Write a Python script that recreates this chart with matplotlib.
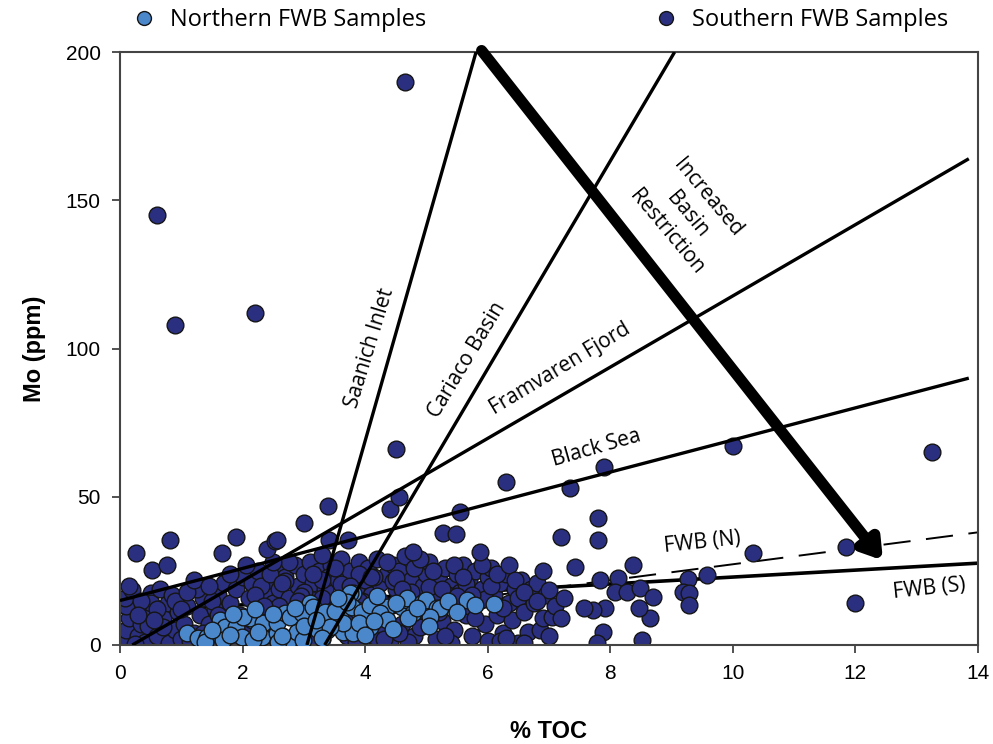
import matplotlib
matplotlib.use("Agg")
import matplotlib.pyplot as plt
from matplotlib.lines import Line2D

# ---------------- data ----------------
south_x = [
    # cluster x 0-1
    0.05, 0.10, 0.15, 0.10, 0.08, 0.20, 0.30, 0.35, 0.45, 0.50, 0.40, 0.25, 0.50, 0.45,
    0.60, 0.70, 0.78, 0.80, 0.90, 0.95, 0.65, 0.85, 1.00,
    # x 1-2
    1.05, 1.10, 1.15, 1.20, 1.30, 1.35, 1.40, 1.45, 1.25,
    1.55, 1.60, 1.70, 1.65, 1.75, 1.80, 1.85, 1.90, 1.95, 2.00, 1.58,
    # x 2-3
    2.05, 2.10, 2.15, 2.20, 2.25, 2.30, 2.35, 2.40, 2.45, 2.50, 2.12,
    2.55, 2.60, 2.65, 2.70, 2.75, 2.80, 2.85, 2.90, 2.95, 3.00, 2.80, 2.60,
    # x 3-4
    3.05, 3.10, 3.15, 3.20, 3.25, 3.30, 3.35, 3.40, 3.45, 3.50, 3.20, 3.40, 3.10,
    3.55, 3.60, 3.65, 3.70, 3.75, 3.80, 3.85, 3.90, 3.95, 4.00, 3.70, 3.85,
    # x 4-5
    4.05, 4.10, 4.15, 4.20, 4.25, 4.30, 4.35, 4.40, 4.45, 4.50, 4.20, 4.40,
    4.55, 4.60, 4.65, 4.70, 4.75, 4.80, 4.85, 4.90, 4.95, 5.00, 4.70, 4.90,
    # x 5-6
    5.05, 5.10, 5.15, 5.20, 5.25, 5.30, 5.35, 5.40, 5.45, 5.50, 5.20, 5.40,
    5.55, 5.60, 5.65, 5.70, 5.75, 5.80, 5.85, 5.90, 5.95, 6.00, 5.70, 6.00,
    # x 6-7.3
    6.05, 6.10, 6.15, 6.20, 6.25, 6.30, 6.35, 6.40, 6.45, 6.50, 6.50, 6.20,
    6.55, 6.60, 6.65, 6.70, 6.75, 6.80, 6.85, 6.90, 6.95, 7.00, 7.05, 7.10, 7.20, 7.25, 6.60,
    # extra fill in dense core
    2.30, 2.70, 3.00, 3.30, 3.60, 3.90, 4.15, 4.45, 4.75, 5.05, 5.35, 5.65, 5.95, 6.25,
    2.45, 2.95, 3.45, 3.95, 4.50, 5.00, 5.50, 6.05,
    0.15, 0.35, 0.60, 0.70, 0.90, 0.55, 0.30,
    1.10, 1.20, 1.50, 1.45, 1.00, 1.35, 1.80, 1.60,
    2.05, 2.20, 2.35, 2.65, 2.75, 2.90, 3.00, 2.50,
    3.15, 3.30, 3.50, 3.55, 3.75, 3.90, 3.65, 3.30,
    4.10, 4.25, 4.35, 4.60, 4.80, 4.95, 4.55, 4.30, 4.90,
    5.10, 5.25, 5.45, 5.60, 5.75, 5.90, 5.30, 5.80,
    6.15, 6.35, 6.45, 6.60, 6.80, 6.90, 6.30, 7.00,
    # sparse right part
    7.83, 8.12, 8.07, 8.27, 8.48, 8.70, 8.65, 8.47, 7.91, 7.88, 7.78, 8.52,
    9.27, 9.58, 9.19, 9.28, 9.28, 7.72, 7.57, 7.42, 8.37,
    # upper scatter
    0.26, 0.82, 0.52, 0.77, 1.66, 1.89, 2.40, 2.53, 2.56, 3.41, 3.72, 3.30,
    4.78, 5.27, 5.48, 5.87, 3.00, 3.40, 4.40, 4.55, 5.55, 7.20, 7.80, 7.80,
    10.33, 11.84, 12.00,
    # outliers
    0.60, 0.90, 2.20, 4.65, 4.50, 10.00, 13.25, 7.90, 6.30, 7.35,
]
south_y = [
    2.0, 5.0, 9.0, 13.0, 16.0, 18.5, 3.0, 7.0, 11.5, 17.5, 1.0, 0.5, 14.0, 6.5,
    3.0, 9.0, 14.0, 0.8, 5.0, 11.0, 19.0, 17.0, 2.0,
    7.0, 13.0, 1.5, 4.0, 10.0, 16.0, 2.5, 7.0, 19.0,
    12.0, 17.0, 21.0, 4.0, 8.0, 14.0, 1.0, 19.0, 10.0, 23.0, 0.8,
    5.0, 16.0, 21.0, 11.0, 25.0, 1.5, 18.0, 8.0, 22.0, 14.0, 0.5,
    26.0, 19.0, 3.0, 23.0, 16.0, 11.0, 27.0, 20.0, 7.0, 24.0, 1.0, 13.0,
    17.0, 28.0, 21.0, 11.0, 25.0, 2.0, 19.0, 14.0, 27.0, 8.0, 5.0, 23.0, 0.7,
    22.0, 29.0, 16.0, 3.0, 25.0, 12.0, 19.0, 28.0, 7.0, 22.0, 9.0, 1.0,
    26.0, 17.0, 3.0, 29.0, 21.0, 6.0, 24.0, 13.0, 27.0, 19.0, 10.0, 1.5,
    25.0, 7.0, 30.0, 16.0, 22.0, 3.0, 27.0, 11.0, 20.0, 24.0, 1.0, 6.0,
    28.0, 17.0, 2.0, 22.0, 8.0, 26.0, 14.0, 20.0, 5.0, 24.0, 11.0, 0.8,
    18.0, 27.0, 10.0, 22.0, 3.0, 25.0, 15.0, 19.0, 7.0, 23.0, 13.0, 1.5,
    26.0, 17.0, 10.0, 21.0, 4.0, 24.0, 14.0, 8.5, 19.0, 0.7, 16.0, 1.2,
    22.0, 11.0, 4.5, 19.0, 14.0, 21.0, 5.0, 9.0, 17.0, 18.5, 9.4, 13.0, 9.1, 16.0, 0.7,
    20.0, 21.5, 18.0, 22.0, 20.5, 24.0, 23.0, 21.5, 18.0, 19.5, 17.0, 20.5, 15.5, 12.5,
    24.0, 16.5, 12.5, 15.0, 22.5, 13.0, 16.5, 20.0,
    20.0, 15.0, 12.0, 6.0, 15.0, 8.5, 10.0,
    18.0, 22.0, 15.0, 20.0, 12.0, 4.0, 24.0, 10.0,
    27.0, 17.0, 13.0, 21.0, 28.0, 15.0, 10.0, 28.0,
    24.0, 16.0, 26.0, 13.0, 20.0, 15.0, 5.0, 8.0,
    23.0, 15.0, 28.0, 19.0, 26.0, 14.0, 4.0, 2.0, 29.0,
    25.0, 19.0, 27.0, 23.0, 17.0, 27.0, 3.0, 9.0,
    24.0, 27.0, 22.0, 18.0, 15.0, 25.0, 2.5, 3.0,
    22.0, 22.6, 17.9, 17.9, 19.2, 16.2, 9.1, 12.5, 12.5, 4.4, 0.7, 1.7,
    22.3, 23.6, 17.9, 17.5, 13.5, 11.8, 12.5, 26.3, 27.0,
    31.0, 35.4, 25.3, 27.0, 31.0, 36.4, 32.4, 35.0, 35.4, 35.4, 35.4, 30.5,
    31.5, 37.8, 37.5, 31.5, 41.0, 47.0, 46.0, 50.0, 45.0, 36.5, 43.0, 35.5,
    31.0, 33.0, 14.0,
    145.0, 108.0, 112.0, 190.0, 66.0, 67.0, 65.0, 60.0, 55.0, 53.0,
]

north_x = [
    1.09, 1.27, 1.42, 1.63, 1.71, 1.90, 2.15, 2.40, 1.68, 1.99, 2.32, 2.56,
    2.12, 2.33, 2.56, 2.69, 2.89, 3.10, 3.07, 3.38, 3.59, 3.80, 3.86, 4.08,
    4.29, 4.35, 4.60, 4.68, 1.39, 2.17, 2.74, 2.89, 3.23, 3.64,
    2.58, 2.99, 2.77, 2.97, 3.15, 3.34, 3.78, 3.80, 3.64, 3.95, 4.08, 4.24,
    4.35, 4.68, 4.93, 4.78, 5.00, 5.17, 4.08, 3.43, 3.75,
    5.66, 6.10, 5.22, 5.06,
    1.50, 1.80, 2.00, 2.25, 2.50, 2.65, 2.85, 3.00, 3.20, 3.30, 3.50, 3.70,
    3.90, 4.00, 4.15, 4.45, 4.50, 4.70, 4.85, 5.05, 5.35, 5.50, 5.80, 3.55,
    2.20, 1.85, 4.20,
]
north_y = [
    4.0, 2.4, 2.7, 8.4, 6.1, 6.1, 8.4, 6.1, 1.7, 2.7, 2.7, 4.0,
    9.1, 7.4, 7.4, 10.8, 9.1, 14.2, 9.4, 5.0, 9.4, 17.5, 11.8, 10.8,
    10.8, 12.8, 12.8, 15.2, 1.0, 1.7, 1.0, 4.4, 5.0, 4.4,
    1.0, 1.7, 9.4, 10.8, 12.8, 11.1, 12.8, 4.0, 7.4, 11.1, 13.5, 10.8,
    8.4, 15.9, 14.2, 10.8, 15.2, 12.5, 6.1, 6.1, 17.5,
    15.2, 13.8, 12.5, 9.4,
    5.0, 3.5, 9.5, 4.5, 10.5, 3.0, 12.5, 6.5, 8.5, 2.5, 11.5, 14.5,
    7.5, 3.5, 8.0, 5.5, 14.0, 9.0, 12.5, 6.5, 14.8, 11.0, 13.5, 16.0,
    12.0, 10.5, 16.5,
]

# reference trend lines: (x0, y0, x1, y1)
line_names = ["Saanich Inlet", "Cariaco Basin", "Framvaren Fjord", "Black Sea"]
line_x0 = [3.05, 3.34, 0.20, 0.0]
line_y0 = [0.0, 0.0, 0.0, 15.0]
line_x1 = [5.81, 9.05, 13.85, 13.85]
line_y1 = [200.0, 200.0, 164.0, 90.0]

fwb_s_x = [0.0, 14.0]
fwb_s_y = [11.2, 27.6]
fwb_n_x = [0.0, 14.0]
fwb_n_y = [0.3, 38.0]

arrow_start = (5.9, 200.5)
arrow_end = (12.45, 28.5)

x_ticks = [0, 2, 4, 6, 8, 10, 12, 14]
y_ticks = [0, 50, 100, 150, 200]

# ---------------- style ----------------
south_color = "#2b2f80"
north_color = "#4a88cb"
txt_font = ["Open Sans", "DejaVu Sans"]
num_font = ["Liberation Sans", "DejaVu Sans"]

fig = plt.figure(figsize=(9.93, 7.44), dpi=100)
ax = fig.add_axes([120/993, 1-645/744, (978-120)/993, (645-52)/744])
ax.set_xlim(0, 14)
ax.set_ylim(0, 200)

# FWB lines under markers
ax.plot(fwb_s_x, fwb_s_y, color="black", lw=2.6, zorder=1, solid_capstyle="butt")
ax.plot(fwb_n_x, fwb_n_y, color="black", lw=1.4, zorder=1, dashes=(14, 8))

ms = 145
ax.scatter(south_x, south_y, s=ms, c=south_color, edgecolors="#151515", linewidths=1.0, zorder=2)
ax.scatter(north_x, north_y, s=ms, c=north_color, edgecolors="#151515", linewidths=1.0, zorder=3)

for x0, y0, x1, y1 in zip(line_x0, line_y0, line_x1, line_y1):
    ax.plot([x0, x1], [y0, y1], color="black", lw=2.4, zorder=4, solid_capstyle="butt")

ax.annotate("", xy=arrow_end, xytext=arrow_start,
            arrowprops=dict(arrowstyle="-|>,head_length=1.1,head_width=0.7",
                            color="black", lw=8, shrinkA=0, shrinkB=0),
            zorder=5, annotation_clip=False)

fs = 15
ax.text(4.08, 100, "Saanich Inlet", rotation=73, ha="center", va="center",
        fontsize=fs, family=txt_font, rotation_mode="anchor", zorder=6)
ax.text(5.66, 96, "Cariaco Basin", rotation=59, ha="center", va="center",
        fontsize=fs, family=txt_font, rotation_mode="anchor", zorder=6)
ax.text(7.19, 93, "Framvaren Fjord", rotation=31, ha="center", va="center",
        fontsize=fs, family=txt_font, rotation_mode="anchor", zorder=6)
ax.text(7.78, 66.5, "Black Sea", rotation=16, ha="center", va="center",
        fontsize=fs, family=txt_font, rotation_mode="anchor", zorder=6)
ax.text(9.5, 34.5, "FWB (N)", rotation=6, ha="center", va="center",
        fontsize=fs, family=txt_font, rotation_mode="anchor", zorder=6)
ax.text(13.2, 18.9, "FWB (S)", rotation=6, ha="center", va="center",
        fontsize=fs, family=txt_font, rotation_mode="anchor", zorder=6)
ax.text(9.25, 145.0, "Increased\nBasin\nRestriction", rotation=-50, ha="center",
        va="center", multialignment="center", linespacing=1.35,
        fontsize=fs, family=txt_font, rotation_mode="anchor", zorder=6)

ax.set_xticks(x_ticks)
ax.set_yticks(y_ticks)
ax.set_xticklabels([str(v) for v in x_ticks], family=num_font, fontsize=15)
ax.set_yticklabels([str(v) for v in y_ticks], family=num_font, fontsize=15)
ax.tick_params(direction="out", length=6, width=1.2, color="#333333", pad=8)
for sp in ax.spines.values():
    sp.set_linewidth(1.5)
    sp.set_color("#444444")

ax.set_xlabel("% TOC", fontsize=17, fontweight="bold", family=num_font, labelpad=26)
ax.set_ylabel("Mo (ppm)", fontsize=17, fontweight="bold", family=num_font, labelpad=14)

# legend (two entries spread above the plot)
h_n = Line2D([], [], marker="o", ls="none", markersize=10, markerfacecolor=north_color,
             markeredgecolor="#151515", markeredgewidth=1.0)
h_s = Line2D([], [], marker="o", ls="none", markersize=10, markerfacecolor=south_color,
             markeredgecolor="#151515", markeredgewidth=1.0)
leg1 = fig.legend([h_n], ["Northern FWB Samples"], loc="center left",
                  bbox_to_anchor=(120/993, 1-20/744), frameon=False,
                  prop={"family": txt_font, "size": 17}, handletextpad=0.1,
                  borderaxespad=0, borderpad=0)
leg2 = fig.legend([h_s], ["Southern FWB Samples"], loc="center left",
                  bbox_to_anchor=(642/993, 1-20/744), frameon=False,
                  prop={"family": txt_font, "size": 17}, handletextpad=0.1,
                  borderaxespad=0, borderpad=0)

fig.savefig("out.png", dpi=100)
